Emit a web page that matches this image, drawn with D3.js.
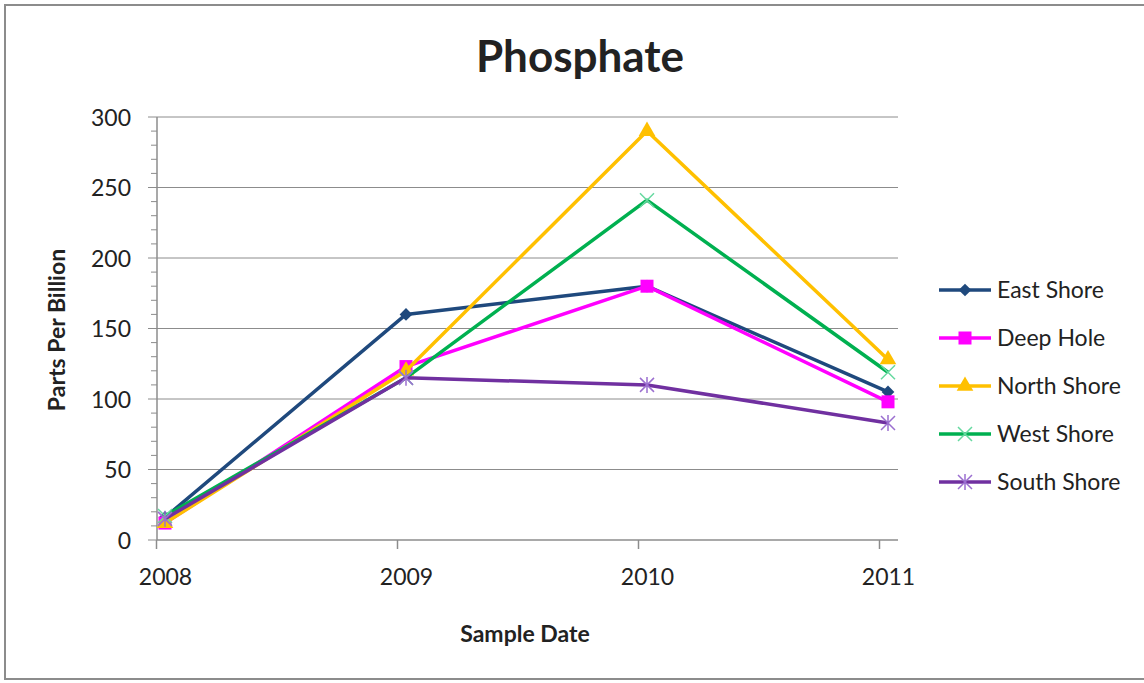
<!DOCTYPE html>
<html>
<head>
<meta charset="utf-8">
<script src="https://cdn.jsdelivr.net/npm/d3@7"></script>
<style>
  html, body { margin: 0; padding: 0; background: #fff; }
  svg { display: block; }
  text { font-family: Lato, "Open Sans", sans-serif; fill: #222; }
</style>
</head>
<body>
<svg id="chart" width="1144" height="683"></svg>
<script>
// ---- data ----
const years = [2008, 2009, 2010, 2011];
const seriesNames = ["East Shore", "Deep Hole", "North Shore", "West Shore", "South Shore"];
const eastShore  = [16, 160, 180, 105];
const deepHole   = [12, 123, 180, 98];
const northShore = [12, 120, 290, 128];
const westShore  = [17, 115, 241, 119];
const southShore = [15, 115, 110, 83];
const yTicks = [0, 50, 100, 150, 200, 250, 300];
const yTitle = "Parts Per Billion";
const xTitle = "Sample Date";
const chartTitle = "Phosphate";

const seriesValues = [eastShore, deepHole, northShore, westShore, southShore];
const colors = ["#1F497D", "#FF00FF", "#FFC000", "#00B050", "#7030A0"];
const markerColors = ["#1F497D", "#FF00FF", "#FFC000", "#66D9A0", "#9B6FD0"];
const markers = ["diamond", "square", "triangle", "x", "star"];

const svg = d3.select("#chart");

// border
svg.append("rect").attr("x", 5).attr("y", 5).attr("width", 1150).attr("height", 674)
  .attr("fill", "none").attr("stroke", "#8c8c8c").attr("stroke-width", 2);

const x = d3.scaleLinear().domain([2008, 2011]).range([165, 888]);
const y = d3.scaleLinear().domain([0, 300]).range([540, 117]);
const plotLeft = 157, plotRight = 898;

// gridlines
svg.append("g").selectAll("line").data(yTicks.filter(d => d > 0)).join("line")
  .attr("x1", plotLeft).attr("x2", plotRight)
  .attr("y1", d => y(d)).attr("y2", d => y(d))
  .attr("stroke", "#8c8c8c").attr("stroke-width", 1);

// y axis minor ticks
const minor = d3.range(0, 301, 10);
svg.append("g").selectAll("line").data(minor).join("line")
  .attr("x1", d => d % 50 === 0 ? 148 : 151).attr("x2", plotLeft)
  .attr("y1", d => y(d)).attr("y2", d => y(d))
  .attr("stroke", "#8c8c8c").attr("stroke-width", 1);

// y axis
const yAxis = d3.axisLeft(y).tickValues(yTicks).tickSize(0).tickPadding(0);
const gy = svg.append("g").attr("transform", `translate(${plotLeft - 26},0)`).call(yAxis);
gy.select(".domain").remove();
gy.selectAll("text").style("font-size", "23px").attr("fill", "#222").attr("dy", "0.35em");

svg.append("line").attr("x1", plotLeft).attr("x2", plotLeft).attr("y1", y(300)).attr("y2", y(0))
  .attr("stroke", "#8c8c8c").attr("stroke-width", 1.5);

// x axis
svg.append("line").attr("x1", plotLeft).attr("x2", plotRight).attr("y1", y(0)).attr("y2", y(0))
  .attr("stroke", "#8c8c8c").attr("stroke-width", 1.5);
svg.append("g").selectAll("line").data(years).join("line")
  .attr("x1", d => x(d) - 8.5).attr("x2", d => x(d) - 8.5)
  .attr("y1", y(0)).attr("y2", y(0) + 9)
  .attr("stroke", "#8c8c8c").attr("stroke-width", 1.5);
const xAxis = d3.axisBottom(x).tickValues(years).tickFormat(d3.format("d")).tickSize(0).tickPadding(0);
const gx = svg.append("g").attr("transform", `translate(0,${y(0) + 29})`).call(xAxis);
gx.select(".domain").remove();
gx.selectAll("text").style("font-size", "23px").attr("fill", "#222").attr("dy", "0.71em");

// titles
svg.append("text").attr("x", 580).attr("y", 72).attr("text-anchor", "middle")
  .style("font-size", "44px").style("font-weight", "bold").attr("fill", "#000").text(chartTitle);
svg.append("text").attr("x", 525).attr("y", 642).attr("text-anchor", "middle")
  .style("font-size", "23px").style("font-weight", "bold").attr("fill", "#111").text(xTitle);
svg.append("text").attr("transform", "translate(65,330) rotate(-90)").attr("text-anchor", "middle")
  .style("font-size", "23px").style("font-weight", "bold").attr("fill", "#111").text(yTitle);

// marker drawing
function drawMarker(g, type, cx, cy, color) {
  if (type === "diamond") {
    g.append("rect").attr("x", -4.5).attr("y", -4.5).attr("width", 9).attr("height", 9)
      .attr("transform", `translate(${cx},${cy}) rotate(45)`).attr("fill", color);
  } else if (type === "square") {
    g.append("rect").attr("x", cx - 6.5).attr("y", cy - 6.5).attr("width", 13).attr("height", 13).attr("fill", color);
  } else if (type === "triangle") {
    g.append("path").attr("d", d3.symbol(d3.symbolTriangle, 120)()).attr("transform", `translate(${cx},${cy})`)
      .attr("fill", color);
  } else if (type === "x") {
    g.append("path").attr("d", `M${cx-7},${cy-7}L${cx+7},${cy+7}M${cx-7},${cy+7}L${cx+7},${cy-7}`)
      .attr("stroke", color).attr("stroke-width", 1.5).attr("fill", "none");
  } else if (type === "star") {
    g.append("path").attr("d", `M${cx-7},${cy-7}L${cx+7},${cy+7}M${cx-7},${cy+7}L${cx+7},${cy-7}M${cx},${cy-8}L${cx},${cy+8}`)
      .attr("stroke", color).attr("stroke-width", 1.5).attr("fill", "none");
  }
}

const line = d3.line().x((d, i) => x(years[i])).y(d => y(d));

seriesValues.forEach((vals, si) => {
  const g = svg.append("g");
  g.append("path").datum(vals).attr("d", line).attr("fill", "none")
    .attr("stroke", colors[si]).attr("stroke-width", 3.5).attr("stroke-linejoin", "round");
  vals.forEach((v, i) => drawMarker(g, markers[si], x(years[i]), y(v), markerColors[si]));
});

// legend
const legendTop = 290, legendGap = 48;
seriesNames.forEach((name, si) => {
  const ly = legendTop + si * legendGap;
  const g = svg.append("g");
  g.append("line").attr("x1", 939).attr("x2", 991).attr("y1", ly).attr("y2", ly)
    .attr("stroke", colors[si]).attr("stroke-width", 3.5);
  drawMarker(g, markers[si], 965, ly, markerColors[si]);
  g.append("text").attr("x", 997).attr("y", ly).attr("dy", "0.35em")
    .style("font-size", "23px").attr("fill", "#222").text(name);
});
</script>
</body>
</html>
